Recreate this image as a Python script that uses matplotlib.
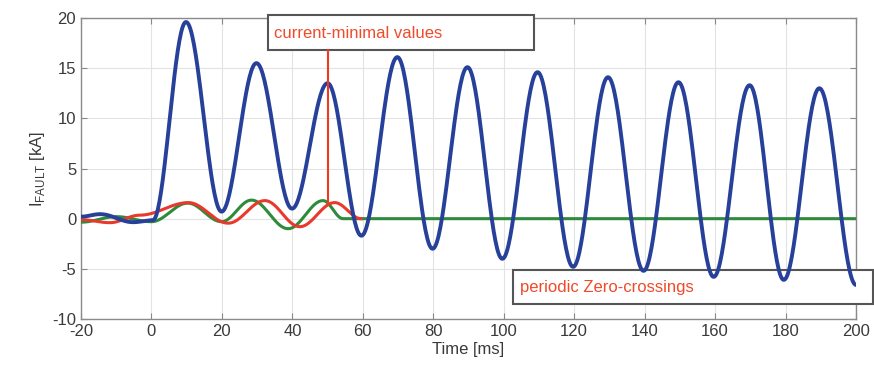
import numpy as np
import matplotlib
matplotlib.use("Agg")
import matplotlib.pyplot as plt
from matplotlib.patches import Rectangle

# ---- data: extrema (time in ms, current in kA) ----
blue_t = [-20, -14.6, -5.2, 0.4, 9.8, 19.9, 29.8, 39.9, 50.0, 59.6, 69.8, 79.8,
          89.7, 99.6, 109.6, 119.7, 129.6, 139.7, 149.6, 159.6, 169.8, 179.5,
          189.6, 200]
blue_v = [0.2, 0.45, -0.35, -0.15, 19.6, 0.7, 15.5, 1.0, 13.5, -1.7, 16.1, -3.0,
          15.1, -4.0, 14.6, -4.8, 14.1, -5.2, 13.6, -5.8, 13.3, -6.1, 13.0, -6.6]

red_t = [-20, -11.8, -3.3, 10.5, 21.8, 32.2, 42.1, 52.0, 59.5]
red_v = [-0.1, -0.4, 0.35, 1.6, -0.45, 1.8, -0.8, 1.6, 0.0]

green_t = [-20, -9.9, 0.0, 10.3, 19.9, 28.4, 38.8, 48.7, 54.4, 200]
green_v = [-0.35, 0.2, -0.3, 1.55, -0.3, 1.85, -1.0, 1.8, 0.0, 0.0]

x_ticks = list(range(-20, 201, 20))
y_ticks = list(range(-10, 21, 5))

marker_t = 50.0
marker_v = (1.6, 16.8)
label_min = "current-minimal values"
label_zero = "periodic Zero-crossings"


def smooth(ts, vs, n=40):
    """Draw a smooth wave through the read extrema (half-cosine segments)."""
    xs, ys = [], []
    for i in range(len(ts) - 1):
        s = np.linspace(0, 1, n, endpoint=False)
        xs.append(ts[i] + (ts[i + 1] - ts[i]) * s)
        ys.append(vs[i] + (vs[i + 1] - vs[i]) * (1 - np.cos(np.pi * s)) / 2)
    xs.append([ts[-1]])
    ys.append([vs[-1]])
    return np.concatenate(xs), np.concatenate(ys)


plt.rcParams['font.family'] = ['Liberation Sans', 'DejaVu Sans']
plt.rcParams['axes.unicode_minus'] = False

fig = plt.figure(figsize=(8.74, 3.77), dpi=100)
ax = fig.add_axes([0.0927, 0.1538, 0.8867, 0.7985])

bx, by = smooth(blue_t, blue_v)
rx, ry = smooth(red_t, red_v)
gx, gy = smooth(green_t, green_v)

ax.plot(gx, gy, color='#2e8b3a', lw=2.2, zorder=7)
ax.plot(rx, ry, color='#e8392c', lw=2.2, zorder=7.5)
ax.plot(bx, by, color='#27409a', lw=2.8, zorder=8)

ax.set_xlim(-20, 200)
ax.set_ylim(-10, 20)
ax.set_xticks(x_ticks)
ax.set_yticks(y_ticks)
ax.grid(True, color='#e3e3e3', lw=0.8)
ax.set_axisbelow(True)
ax.tick_params(direction='in', length=4, top=True, right=True,
               labelsize=12, colors='#888888', labelcolor='#3a3a3a')
for s in ax.spines.values():
    s.set_color('#8a8a8a')
    s.set_linewidth(1.0)

ax.set_xlabel('Time [ms]', fontsize=12, color='#3a3a3a', labelpad=2)
ax.set_ylabel(r'I$_{\mathregular{FAULT}}$ [kA]', fontsize=12, color='#3a3a3a',
              labelpad=4)

# marker line
ax.plot([marker_t, marker_t], list(marker_v), color='#f03a20', lw=1.5,
        zorder=9, clip_on=False)

# annotation boxes
ax.add_patch(Rectangle((33.0, 16.8), 75.5, 3.5, facecolor='white',
                       edgecolor='#555555', lw=1.5, zorder=5, clip_on=False))
ax.text(34.8, 18.5, label_min, color='#f04a2a', fontsize=12, va='center',
        ha='left', zorder=6)

ax.add_patch(Rectangle((102.6, -8.5), 102.1, 3.4, facecolor='white',
                       edgecolor='#555555', lw=1.5, zorder=5, clip_on=False))
ax.text(104.5, -6.85, label_zero, color='#f04a2a', fontsize=12, va='center',
        ha='left', zorder=6)

fig.savefig('out.png', dpi=100)
